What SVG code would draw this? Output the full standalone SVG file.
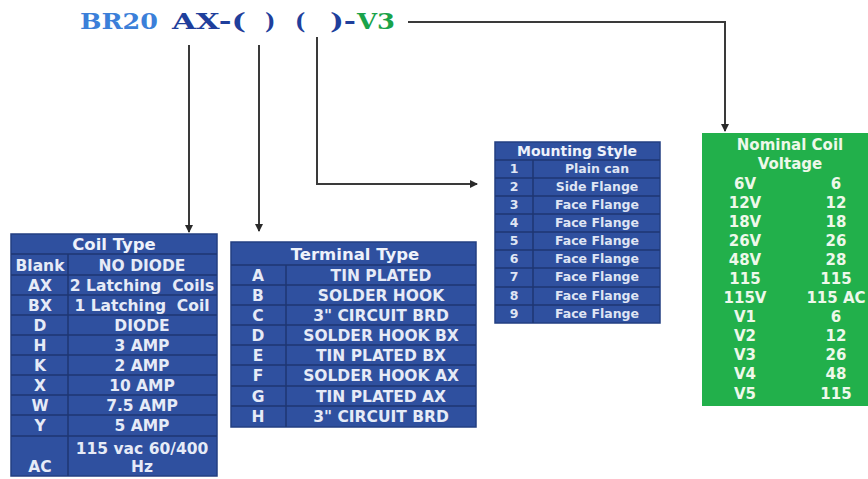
<svg xmlns="http://www.w3.org/2000/svg" width="868" height="479" viewBox="0 0 868 479">
<style>
.bg{fill:#ffffff}
.tbl{fill:#2f509f;stroke:#233f82;stroke-width:1.5}
.sep{stroke:#1f3672;stroke-width:1.5}
.hdr{font-family:"DejaVu Sans","Liberation Sans",sans-serif;font-weight:bold;font-size:16.5px;fill:#eef2fb;text-anchor:middle}
.cell{font-family:"DejaVu Sans","Liberation Sans",sans-serif;font-weight:bold;font-size:15.5px;fill:#e6ebf7;text-anchor:middle}
.ms{font-family:"DejaVu Sans","Liberation Sans",sans-serif;font-weight:bold;font-size:12.5px;fill:#dfe5f4;text-anchor:middle}
.msh{font-family:"DejaVu Sans","Liberation Sans",sans-serif;font-weight:bold;font-size:14px;fill:#eef2fb;text-anchor:middle}
.grn{fill:#22b04b}
.gt{font-family:"DejaVu Sans","Liberation Sans",sans-serif;font-weight:bold;font-size:15px;fill:#eef8ea;text-anchor:middle}
.ttl{font-family:"DejaVu Serif","Liberation Serif",serif;font-weight:bold;font-size:22px}
.conn{fill:none;stroke:#3a3a3a;stroke-width:2}
</style>
<defs>
<marker id="arr" markerWidth="8" markerHeight="8" refX="7" refY="4" orient="auto" markerUnits="userSpaceOnUse">
<path d="M0,0 L8,4 L0,8 Z" fill="#2a2a2a"/>
</marker>
</defs>
<rect class="bg" x="0" y="0" width="868" height="479"/>

<g id="title">
<text class="ttl" x="80" y="29" fill="#3b7fd9" textLength="78" lengthAdjust="spacingAndGlyphs">BR20</text>
<text class="ttl" x="172" y="29" fill="#1f3f9c" textLength="74" lengthAdjust="spacingAndGlyphs">AX-(</text>
<text class="ttl" x="265" y="29" fill="#1f3f9c">)</text>
<text class="ttl" x="295" y="29" fill="#1f3f9c">(</text>
<text class="ttl" x="330" y="29" fill="#1f3f9c" textLength="26" lengthAdjust="spacingAndGlyphs">)-</text>
<text class="ttl" x="357" y="29" fill="#1aa34a" textLength="38" lengthAdjust="spacingAndGlyphs">V3</text>
</g>

<g id="connectors">
<path class="conn" d="M189,45 V232" marker-end="url(#arr)"/>
<path class="conn" d="M259,45 V231" marker-end="url(#arr)"/>
<path class="conn" d="M317,37 V184 H477" marker-end="url(#arr)"/>
<path class="conn" d="M408,22 H725 V131" marker-end="url(#arr)"/>
</g>

<g id="coil-type">
<rect class="tbl" x="11" y="234" width="206" height="242"/>
<line class="sep" x1="68" y1="254" x2="68" y2="476"/>
<line class="sep" x1="11" y1="254" x2="217" y2="254"/>
<line class="sep" x1="11" y1="275" x2="217" y2="275"/>
<line class="sep" x1="11" y1="295" x2="217" y2="295"/>
<line class="sep" x1="11" y1="315" x2="217" y2="315"/>
<line class="sep" x1="11" y1="335" x2="217" y2="335"/>
<line class="sep" x1="11" y1="355" x2="217" y2="355"/>
<line class="sep" x1="11" y1="375" x2="217" y2="375"/>
<line class="sep" x1="11" y1="395" x2="217" y2="395"/>
<line class="sep" x1="11" y1="415" x2="217" y2="415"/>
<line class="sep" x1="11" y1="436" x2="217" y2="436"/>
<text class="hdr" x="114" y="250">Coil Type</text>
<text class="cell" x="40" y="271">Blank</text><text class="cell" x="142" y="271">NO DIODE</text>
<text class="cell" x="40" y="291">AX</text><text class="cell" x="142" y="291">2 Latching&#160; Coils</text>
<text class="cell" x="40" y="311">BX</text><text class="cell" x="142" y="311">1 Latching&#160; Coil</text>
<text class="cell" x="40" y="331">D</text><text class="cell" x="142" y="331">DIODE</text>
<text class="cell" x="40" y="351">H</text><text class="cell" x="142" y="351">3 AMP</text>
<text class="cell" x="40" y="371">K</text><text class="cell" x="142" y="371">2 AMP</text>
<text class="cell" x="40" y="391">X</text><text class="cell" x="142" y="391">10 AMP</text>
<text class="cell" x="40" y="411">W</text><text class="cell" x="142" y="411">7.5 AMP</text>
<text class="cell" x="40" y="431">Y</text><text class="cell" x="142" y="431">5 AMP</text>
<text class="cell" x="142" y="454">115 vac 60/400</text>
<text class="cell" x="40" y="472">AC</text><text class="cell" x="142" y="472">Hz</text>
</g>

<g id="terminal-type">
<rect class="tbl" x="231" y="242" width="245" height="185"/>
<line class="sep" x1="286" y1="265" x2="286" y2="427"/>
<line class="sep" x1="231" y1="265" x2="476" y2="265"/>
<line class="sep" x1="231" y1="285" x2="476" y2="285"/>
<line class="sep" x1="231" y1="305" x2="476" y2="305"/>
<line class="sep" x1="231" y1="325" x2="476" y2="325"/>
<line class="sep" x1="231" y1="345" x2="476" y2="345"/>
<line class="sep" x1="231" y1="365" x2="476" y2="365"/>
<line class="sep" x1="231" y1="386" x2="476" y2="386"/>
<line class="sep" x1="231" y1="406" x2="476" y2="406"/>
<text class="hdr" x="355" y="260">Terminal Type</text>
<text class="cell" x="258" y="281">A</text><text class="cell" x="381" y="281">TIN PLATED</text>
<text class="cell" x="258" y="301">B</text><text class="cell" x="381" y="301">SOLDER HOOK</text>
<text class="cell" x="258" y="321">C</text><text class="cell" x="381" y="321">3" CIRCUIT BRD</text>
<text class="cell" x="258" y="341">D</text><text class="cell" x="381" y="341">SOLDER HOOK BX</text>
<text class="cell" x="258" y="361">E</text><text class="cell" x="381" y="361">TIN PLATED BX</text>
<text class="cell" x="258" y="381">F</text><text class="cell" x="381" y="381">SOLDER HOOK AX</text>
<text class="cell" x="258" y="402">G</text><text class="cell" x="381" y="402">TIN PLATED AX</text>
<text class="cell" x="258" y="422">H</text><text class="cell" x="381" y="422">3" CIRCUIT BRD</text>
</g>

<g id="mounting-style">
<rect class="tbl" x="495" y="142" width="165" height="181"/>
<line class="sep" x1="533" y1="160" x2="533" y2="323"/>
<line class="sep" x1="495" y1="160" x2="660" y2="160"/>
<line class="sep" x1="495" y1="178" x2="660" y2="178"/>
<line class="sep" x1="495" y1="196" x2="660" y2="196"/>
<line class="sep" x1="495" y1="214" x2="660" y2="214"/>
<line class="sep" x1="495" y1="232" x2="660" y2="232"/>
<line class="sep" x1="495" y1="250" x2="660" y2="250"/>
<line class="sep" x1="495" y1="268" x2="660" y2="268"/>
<line class="sep" x1="495" y1="287" x2="660" y2="287"/>
<line class="sep" x1="495" y1="305" x2="660" y2="305"/>
<text class="msh" x="577" y="156">Mounting Style</text>
<text class="ms" x="514" y="173">1</text><text class="ms" x="597" y="173">Plain can</text>
<text class="ms" x="514" y="191">2</text><text class="ms" x="597" y="191">Side Flange</text>
<text class="ms" x="514" y="209">3</text><text class="ms" x="597" y="209">Face Flange</text>
<text class="ms" x="514" y="227">4</text><text class="ms" x="597" y="227">Face Flange</text>
<text class="ms" x="514" y="245">5</text><text class="ms" x="597" y="245">Face Flange</text>
<text class="ms" x="514" y="263">6</text><text class="ms" x="597" y="263">Face Flange</text>
<text class="ms" x="514" y="281">7</text><text class="ms" x="597" y="281">Face Flange</text>
<text class="ms" x="514" y="300">8</text><text class="ms" x="597" y="300">Face Flange</text>
<text class="ms" x="514" y="318">9</text><text class="ms" x="597" y="318">Face Flange</text>
</g>

<g id="nominal-coil-voltage">
<rect class="grn" x="702" y="133" width="166" height="273"/>
<text class="gt" x="790" y="150">Nominal Coil</text>
<text class="gt" x="790" y="169">Voltage</text>
<text class="gt" x="745" y="189">6V</text><text class="gt" x="836" y="189">6</text>
<text class="gt" x="745" y="208">12V</text><text class="gt" x="836" y="208">12</text>
<text class="gt" x="745" y="227">18V</text><text class="gt" x="836" y="227">18</text>
<text class="gt" x="745" y="246">26V</text><text class="gt" x="836" y="246">26</text>
<text class="gt" x="745" y="265">48V</text><text class="gt" x="836" y="265">28</text>
<text class="gt" x="745" y="284">115</text><text class="gt" x="836" y="284">115</text>
<text class="gt" x="745" y="303">115V</text><text class="gt" x="836" y="303">115 AC</text>
<text class="gt" x="745" y="322">V1</text><text class="gt" x="836" y="322">6</text>
<text class="gt" x="745" y="341">V2</text><text class="gt" x="836" y="341">12</text>
<text class="gt" x="745" y="360">V3</text><text class="gt" x="836" y="360">26</text>
<text class="gt" x="745" y="379">V4</text><text class="gt" x="836" y="379">48</text>
<text class="gt" x="745" y="399">V5</text><text class="gt" x="836" y="399">115</text>
</g>
</svg>
